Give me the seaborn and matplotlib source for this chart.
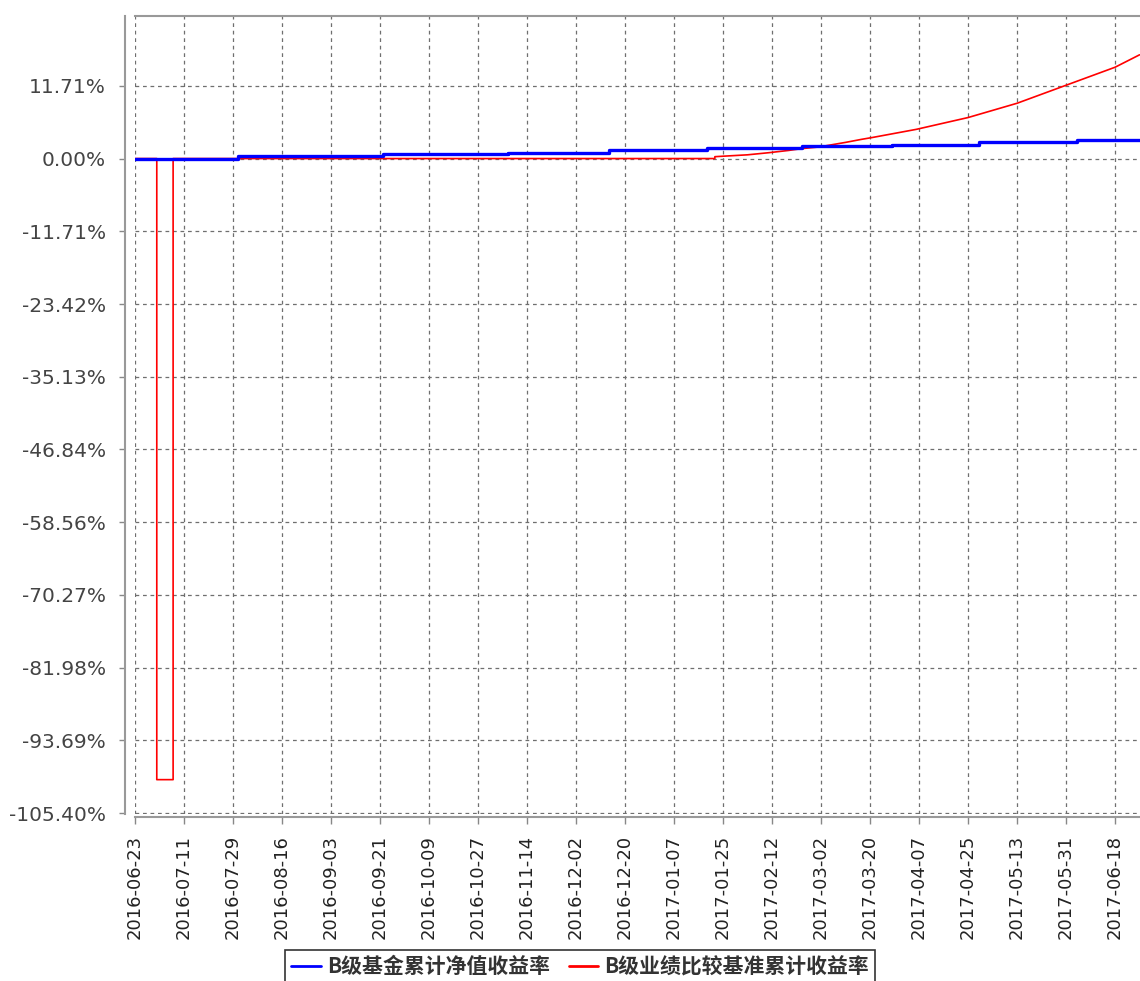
import matplotlib
matplotlib.use("Agg")
import matplotlib.pyplot as plt
import seaborn as sns
import pandas as pd

# B级基金累计净值收益率 (step series)
blue_dates = ["2016-06-23", "2016-07-31", "2016-09-22", "2016-11-07", "2016-12-14",
              "2017-01-19", "2017-02-23", "2017-03-28", "2017-04-29", "2017-06-04",
              "2017-06-27"]
blue_values = [0.00, 0.45, 0.68, 0.97, 1.32, 1.65, 1.95, 2.25, 2.60, 3.00, 3.00]

# B级业绩比较基准累计收益率
red_dates = ["2016-06-23", "2016-07-01", "2016-07-01", "2016-07-07", "2016-07-07",
             "2017-01-22", "2017-01-22", "2017-02-03", "2017-02-11", "2017-02-18",
             "2017-02-23", "2017-03-01", "2017-03-07", "2017-03-11", "2017-03-17",
             "2017-03-21", "2017-04-06", "2017-04-25", "2017-05-13", "2017-05-31",
             "2017-06-18", "2017-06-27"]
red_values = [0.00, 0.00, -100.0, -100.0, 0.00,
              0.00, 0.30, 0.60, 0.95, 1.30,
              1.60, 1.85, 2.30, 2.60, 3.10,
              3.40, 4.70, 6.60, 8.90, 11.80,
              14.70, 16.70]

y_ticks = [11.71, 0.00, -11.71, -23.42, -35.13, -46.84, -58.56, -70.27, -81.98, -93.69, -105.40]
x_tick_labels = ["2016-06-23", "2016-07-11", "2016-07-29", "2016-08-16", "2016-09-03",
                 "2016-09-21", "2016-10-09", "2016-10-27", "2016-11-14", "2016-12-02",
                 "2016-12-20", "2017-01-07", "2017-01-25", "2017-02-12", "2017-03-02",
                 "2017-03-20", "2017-04-07", "2017-04-25", "2017-05-13", "2017-05-31",
                 "2017-06-18"]

blue_name = "B级基金累计净值收益率"
red_name = "B级业绩比较基准累计收益率"

df_blue = pd.DataFrame({"date": pd.to_datetime(blue_dates), "value": blue_values})
df_red = pd.DataFrame({"date": pd.to_datetime(red_dates), "value": red_values})

sns.set_style("white")
plt.rcParams["font.family"] = ["Noto Sans CJK SC", "DejaVu Sans"]

fig = plt.figure(figsize=(11.4, 9.81), dpi=100)
ax = fig.add_axes([135 / 1140, 1 - 813.5 / 981, 1 - 135 / 1140, (813.5 - 16) / 981])

sns.lineplot(data=df_red, x="date", y="value", ax=ax, color="#ff0000", linewidth=1.2,
             estimator=None, sort=False, label=red_name, zorder=3)
sns.lineplot(data=df_blue, x="date", y="value", ax=ax, color="#0000ff", linewidth=2.4,
             estimator=None, sort=False, drawstyle="steps-post", label=blue_name, zorder=4)

ax.set_xlim(pd.Timestamp("2016-06-23"), pd.Timestamp("2017-06-27 04:00"))
ax.set_ylim(-105.45, 22.95)

ax.set_yticks(y_ticks)
ax.set_yticklabels([f"{v:.2f}%" for v in y_ticks])
ax.set_xticks(pd.to_datetime(x_tick_labels))
ax.set_xticklabels(x_tick_labels)

ax.tick_params(axis="y", labelsize=14.5, labelcolor="#444444", color="#888888",
               length=4, width=1, pad=10, left=True, labelfontfamily="DejaVu Sans")
ax.tick_params(axis="x", labelsize=13, labelcolor="#222222", color="#888888",
               length=5, width=1, pad=8, bottom=True, labelrotation=90,
               labelfontfamily="DejaVu Sans")

ax.grid(True, color="#6f6f6f", linestyle=(0, (3, 3)), linewidth=0.9)
ax.set_axisbelow(True)

for side in ["left", "bottom", "top"]:
    ax.spines[side].set_color("#999999")
    ax.spines[side].set_linewidth(1.5)
ax.spines["right"].set_visible(False)
ax.spines["left"].set_position(("outward", 7))
ax.spines["bottom"].set_position(("outward", 2.5))
ax.set_xlabel("")
ax.set_ylabel("")

handles, labels = ax.get_legend_handles_labels()
ax.legend_.remove()
order = [labels.index(blue_name), labels.index(red_name)]
leg = fig.legend([handles[i] for i in order], [labels[i] for i in order],
                 loc="upper center", bbox_to_anchor=(580 / 1140, 1 - 950 / 981),
                 ncol=2, frameon=True, fancybox=False, edgecolor="#000000",
                 prop={"family": ["Noto Sans CJK SC", "DejaVu Sans"], "size": 15, "weight": "bold"},
                 handlelength=1.4, handletextpad=0.3, columnspacing=0.9,
                 borderpad=0.3, borderaxespad=0)
leg.get_frame().set_linewidth(1.2)
for t in leg.get_texts():
    t.set_color("#333333")
for line in leg.get_lines():
    line.set_linewidth(2)

fig.savefig("out.png", dpi=100)
